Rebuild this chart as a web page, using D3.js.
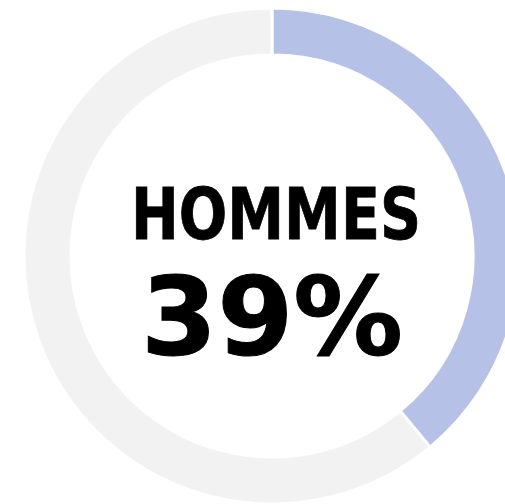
<!DOCTYPE html>
<html>
<head>
<meta charset="utf-8">
<script src="https://cdn.jsdelivr.net/npm/d3@7"></script>
<style>
  html, body { margin: 0; padding: 0; background: #fff; overflow: hidden; }
  svg { display: block; }
  text { font-family: "DejaVu Sans", Verdana, sans-serif; font-weight: bold; fill: #000; }
</style>
</head>
<body>
<svg id="chart"></svg>
<script>
const width = 505;
const height = 504;

// data
const categories = ["Hommes", "Femmes"];
const values = [39, 61];
const colors = ["#b6c1e8", "#f2f2f2"];
const label = "HOMMES";
const valueLabel = "39%";

const cx = 272;
const cy = 256;
const outerRadius = 248;
const innerRadius = 201;

let svg = d3.select("#chart")
  .attr("width", width)
  .attr("height", height);

let pie = d3.pie()
  .sort(null)
  .value(d => d.value);

let arc = d3.arc()
  .innerRadius(innerRadius)
  .outerRadius(outerRadius);

let colorScale = d3.scaleOrdinal()
  .domain(categories)
  .range(colors);

let data = categories.map((c, i) => ({ name: c, value: values[i] }));

let g = svg.append("g")
  .attr("transform", `translate(${cx},${cy})`);

//draw slices
g.selectAll("path")
  .data(pie(data))
  .enter()
  .append("path")
  .attr("d", arc)
  .style("fill", d => colorScale(d.data.name))
  .style("stroke", "#fff")
  .style("stroke-width", 3);

//center labels
g.append("text")
  .attr("text-anchor", "middle")
  .attr("x", 4)
  .attr("y", -17)
  .attr("textLength", 290)
  .attr("lengthAdjust", "spacingAndGlyphs")
  .style("font-size", "72px")
  .style("stroke", "#000")
  .style("stroke-width", 0.8)
  .text(label);

g.append("text")
  .attr("text-anchor", "middle")
  .attr("x", 0)
  .attr("y", 98)
  .attr("textLength", 262)
  .attr("lengthAdjust", "spacingAndGlyphs")
  .style("font-size", "108px")
  .style("stroke", "#000")
  .style("stroke-width", 1)
  .text(valueLabel);
</script>
</body>
</html>
